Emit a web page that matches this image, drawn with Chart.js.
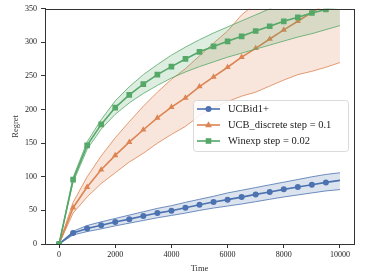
<!DOCTYPE html>
<html>
<head>
<meta charset="utf-8">
<script src="https://cdn.jsdelivr.net/npm/chart.js@4.4.1/dist/chart.umd.min.js"></script>
<style>
  html, body { margin: 0; padding: 0; background: #fff; }
  #wrap { width: 365px; height: 274px; }
</style>
</head>
<body>
<div id="wrap"><canvas id="myChart" width="365" height="274"></canvas></div>
<script>
// time steps (markers every 500)
var time = [0,500,1000,1500,2000,2500,3000,3500,4000,4500,5000,5500,6000,6500,7000,7500,8000,8500,9000,9500,10000];

var ucbid = [0,16.3,23,28,32.7,37,41.6,46,49.6,54,58.5,62.4,66,69.8,73.8,77.3,81.3,84.7,88.2,91.7,94.7];
var ucbidUp = [0,19,27.5,33,38,43,48,53,57,62,66.5,71,76,80,84,88,92,96,100,103.5,106];
var ucbidLo = [0,13.5,18.5,22.5,27,31,35,39,42.5,46,50,53.5,56.5,59.5,63,66.5,70,73,76,79,81];

var ucbDisc = [0,54,84.7,110.5,131.8,151.6,170,187.7,203.6,217.5,234.3,248.7,263,278,291.2,305,318.6,331.5,344.8,357,370];
var ucbDiscUp = [0,62,100,131,158,182,205,226,245,261,280,299,317,341,358,375,394,412,433,451,470];
var ucbDiscLo = [0,46,70,90,106,122,135,150,163,175,191,202,212,220,226,235,244,252,257,263,270];

var winexp = [0,95.7,146.7,178,203,222,238,252,264,275.4,286,294,301.6,309,317,324,331.4,337.3,343.8,349,353];
var winexpUp = [0,99,152,185,213,234,252,267,281,293,304,314,323,332,341,350,359,368,377,386,395];
var winexpLo = [0,92,141,171,193,210,224,236,247,256,264,271,278,284,290,296,302,308,313,319,325];

var labels = ["UCBid1+", "UCB_discrete step = 0.1", "Winexp step = 0.02"];
var xTicks = [0,2000,4000,6000,8000,10000];
var yTicks = [0,50,100,150,200,250,300,350];

var blue = "#4c72b0", orange = "#dd8452", green = "#55a868";
var serif = "'Liberation Serif', 'DejaVu Serif', serif";

function pts(ys){
  return ys.map(function(y,i){ return {x: time[i], y: y}; });
}

function band(up, lo, col, fillCol, ord){
  return [
    {data: pts(up), borderColor: col, borderWidth: 0.8, backgroundColor: fillCol,
     fill: "+1", pointRadius: 0, order: ord},
    {data: pts(lo), borderColor: col, borderWidth: 0.8, fill: false, pointRadius: 0, order: ord}
  ];
}

function line(ys, col, style, r, ord){
  return {data: pts(ys), borderColor: col, backgroundColor: col, borderWidth: 1.6,
    fill: false, pointStyle: style, order: ord,
    pointRadius: function(c){ return c.dataIndex === time.length-1 ? 0 : r; },
    pointBorderWidth: 0};
}

var datasets = [].concat(
  [line(winexp, green, "rect", 4, 0)],
  band(winexpUp, winexpLo, green, "rgba(85,168,104,0.2)", 1),
  [line(ucbDisc, orange, "triangle", 3.6, 2)],
  band(ucbDiscUp, ucbDiscLo, orange, "rgba(221,132,82,0.2)", 3),
  [line(ucbid, blue, "circle", 3, 4)],
  band(ucbidUp, ucbidLo, blue, "rgba(76,114,176,0.2)", 5)
);

var frame = {
  id: "frame",
  afterDatasetsDraw: function(chart){
    var a = chart.chartArea, ctx = chart.ctx;
    ctx.save();
    ctx.strokeStyle = "#333";
    ctx.lineWidth = 1;
    ctx.strokeRect(Math.round(a.left)+0.5, Math.round(a.top)+0.5, Math.round(a.right-a.left), Math.round(a.bottom-a.top));
    ctx.restore();
  },
  afterDraw: function(chart){
    var ctx = chart.ctx;
    var cols = [blue, orange, green];
    var styles = ["circle", "triangle", "rect"];
    var x0 = 193, y0 = 100, w = 155, h = 51;
    ctx.save();
    ctx.fillStyle = "rgba(255,255,255,0.85)";
    ctx.strokeStyle = "#d0d0d0";
    ctx.lineWidth = 0.8;
    ctx.beginPath();
    ctx.roundRect(x0+0.5, y0+0.5, w, h, 3);
    ctx.fill();
    ctx.stroke();
    for (var i = 0; i < 3; i++){
      var yy = 109 + i*16;
      ctx.strokeStyle = cols[i];
      ctx.fillStyle = cols[i];
      ctx.lineWidth = 1.6;
      ctx.beginPath();
      ctx.moveTo(197, yy); ctx.lineTo(220, yy);
      ctx.stroke();
      var cx = 208.5;
      ctx.beginPath();
      if (styles[i] === "circle") ctx.arc(cx, yy, 3, 0, Math.PI*2);
      else if (styles[i] === "triangle"){ ctx.moveTo(cx, yy-3.8); ctx.lineTo(cx+3.4, yy+2.2); ctx.lineTo(cx-3.4, yy+2.2); ctx.closePath(); }
      else ctx.rect(cx-2.8, yy-2.8, 5.6, 5.6);
      ctx.fill();
      ctx.fillStyle = "#222";
      ctx.font = "10.5px " + serif;
      ctx.textBaseline = "middle";
      ctx.fillText(labels[i], 228, yy+0.5);
    }
    ctx.restore();
  }
};

var myChart = document.getElementById("myChart").getContext("2d");
var chart = new Chart(myChart, {
  type: "line",
  data: {datasets: datasets},
  options: {
    responsive: false,
    animation: false,
    events: [],
    layout: {padding: {left: 0, top: 8, right: 11, bottom: 0}},
    plugins: {legend: {display: false}, tooltip: {enabled: false}},
    scales: {
      x: {
        type: "linear", min: -500, max: 10500,
        afterBuildTicks: function(s){ s.ticks = xTicks.map(function(v){ return {value: v}; }); },
        afterFit: function(s){ s.height = 30; },
        grid: {drawOnChartArea: false, tickLength: 4, tickColor: "#333"},
        border: {color: "#333", width: 1},
        ticks: {color: "#222", font: {family: serif, size: 8}, padding: 2, maxRotation: 0,
          callback: function(v){ return String(v); }},
        title: {display: true, text: "Time", color: "#333", font: {family: serif, size: 8.5}, padding: {top: 0, bottom: 0}}
      },
      y: {
        type: "linear", min: 0, max: 350,
        afterBuildTicks: function(s){ s.ticks = yTicks.map(function(v){ return {value: v}; }); },
        afterFit: function(s){ s.width = 45; },
        grid: {drawOnChartArea: false, tickLength: 4, tickColor: "#333"},
        border: {color: "#333", width: 1},
        ticks: {color: "#222", font: {family: serif, size: 8}, padding: 4,
          callback: function(v){ return String(v); }},
        title: {display: true, text: "Regret", color: "#333", font: {family: serif, size: 8.5}, padding: {top: 11, bottom: 0}}
      }
    }
  },
  plugins: [frame]
});
</script>
</body>
</html>
